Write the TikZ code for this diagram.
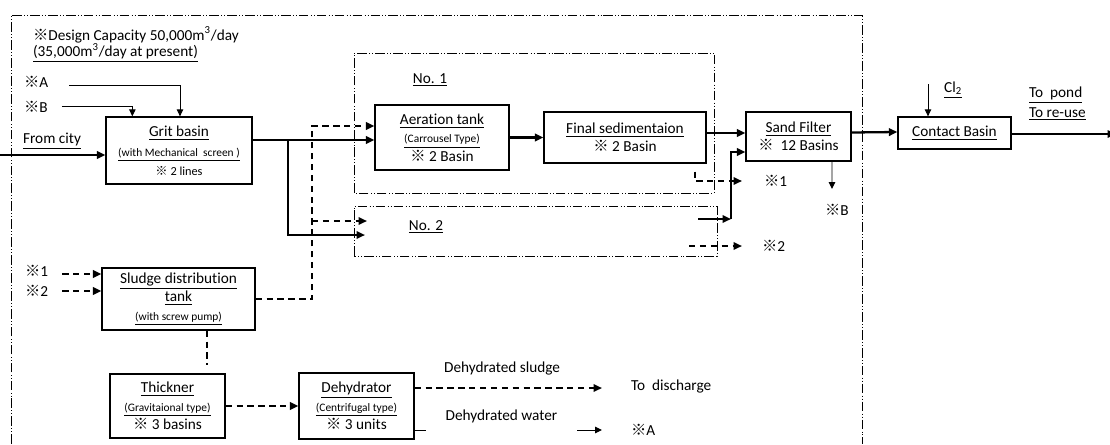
\documentclass[tikz,border=0pt]{standalone}
\usepackage{fontspec}
\setmainfont{Carlito}[Ligatures=NoCommon]
\newfontfamily\cjkfont{Noto Sans CJK JP}
\newcommand{\kome}{{\cjkfont ※}}
\newcommand{\smalltxt}{\fontsize{6.5}{8}\selectfont}
\usetikzlibrary{arrows.meta,calc}

\begin{document}
\begin{tikzpicture}[
  x=0.02cm, y=0.02cm,
  font=\fontsize{8.7}{10.5}\selectfont,
  tank/.style={draw, line width=0.75pt, align=center, inner sep=1pt},
  note/.style={inner sep=1pt},
  flow/.style={line width=1.3pt, -{Triangle[length=1.7mm, width=1.5mm]}},
  feed/.style={line width=0.55pt, -{Triangle[length=1.4mm, width=1.3mm]}},
  sludge/.style={line width=1.2pt, dash pattern=on 3.6pt off 2.6pt},
  sludgeflow/.style={sludge, -{Triangle[length=1.7mm, width=1.5mm]}},
  frame/.style={line width=0.55pt, dash pattern=on 5.5pt off 1.3pt on 0.4pt off 1.3pt on 0.4pt off 1.3pt}
]
  \useasboundingbox (0,0) rectangle (1110,444);

  % plant boundary and the two lines
  \draw[frame] (11,0) -- (11,429) -- (862,429) -- (862,0);
  \draw[frame] (354,251) rectangle (714,391);
  \draw[frame] (354,188) rectangle (717,238);

  \node[note, anchor=west] (cap) at (31,409) {\kome Design Capacity 50,000m\textsuperscript{3}/day};
  \node[note, anchor=west] (now) at (31,391) {\underline{(35,000m\textsuperscript{3}/day at present)}};
  \node[note, anchor=west] (kA) at (22,362) {\kome A};
  \node[note, anchor=west] (kB) at (22,337) {\kome B};
  \node[note, anchor=west] (city) at (21,303) {\underline{From city}};
  \node[note] (no1) at (430,364) {\underline{No. 1}};
  \node[note] (no2) at (426,217) {\underline{No. 2}};

  \node[tank, minimum width=2.92cm, minimum height=1.34cm] (grit) at (179,293.5)
    {\underline{Grit basin}\\[1pt] {\smalltxt\underline{(with Mechanical\ \ screen )}}\\ {\fontsize{7}{8}\selectfont\kome\ 2 lines}};
  \node[tank, minimum width=2.68cm, minimum height=1.3cm] (aer) at (442,306.5)
    {\underline{Aeration tank}\\ {\smalltxt\underline{(Carrousel Type)}}\\ \kome\ 2 Basin};
  \node[tank, minimum width=3.24cm, minimum height=1.02cm] (fin) at (625,306.5)
    {\underline{Final sedimentaion}\\ \kome\ 2 Basin};
  \node[tank, minimum width=2.1cm, minimum height=0.98cm] (sand) at (798.5,307.5)
    {\underline{Sand Filter}\\ \kome\ \ 12 Basins};
  \node[tank, minimum width=2.26cm, minimum height=0.64cm] (contact) at (954.5,311)
    {\underline{Contact Basin}};
  \node[tank, minimum width=3.06cm, minimum height=1.24cm] (sludge) at (178.5,145)
    {\underline{Sludge distribution}\\ \underline{tank}\\ {\smalltxt\underline{(with screw pump)}}};
  \node[tank, minimum width=2.3cm, minimum height=1.28cm] (thk) at (167.5,38)
    {\underline{Thickner}\\ {\smalltxt\underline{(Gravitaional type)}}\\ \kome\ 3 basins};
  \node[tank, minimum width=2.3cm, minimum height=1.32cm] (dehyd) at (356.5,38)
    {\underline{Dehydrator}\\ {\smalltxt\underline{(Centrifugal type)}}\\ \kome\ 3 units};

  \node[note, anchor=west] (kOne) at (762,263) {\kome 1};
  \node[note, anchor=west] (kTwo) at (760,198) {\kome 2};
  \node[note, anchor=west] (kB2) at (823,234) {\kome B};
  \node[note, anchor=west] (cl) at (942,354) {\underline{Cl\textsubscript{2}}};
  \node[note, anchor=west] (pond) at (1027,349) {\underline{To\ \ pond}};
  \node[note, anchor=west] (reuse) at (1027,330) {\underline{To re-use}};
  \node[note, anchor=west] (kOneL) at (23,173) {\kome 1};
  \node[note, anchor=west] (kTwoL) at (23,153) {\kome 2};
  \node[note, anchor=west] (dsl) at (442,75) {Dehydrated sludge};
  \node[note, anchor=west] (disc) at (629,57) {To\ \ discharge};
  \node[note, anchor=west] (kA2) at (629,14) {\kome A};

  \coordinate (inlet) at (0,289);
  \coordinate (jA) at (288,304);
  \coordinate (n2in) at (365,209);
  \coordinate (jB) at (312,318);
  \coordinate (n2ret) at (367,223);
  \coordinate (n2out) at (698,225);
  \coordinate (jC) at (731,225);
  \coordinate (n1sl) at (742,263);
  \coordinate (n2sl) at (689,198);
  \coordinate (sB) at (832,255);
  \coordinate (clin) at (928,360);
  \coordinate (outlet) at (1116,310);
  \coordinate (tod) at (602,56);
  \coordinate (toA) at (602,14);

  \draw[flow] (inlet) -- (inlet -| grit.west);
  \draw[feed] ($(kA.east)+(19,-3)$) -| ($(grit.north)+(1,0)$);
  \draw[feed] ($(kB.east)+(12,1)$) -| ($(grit.north west)+(27,0)$);

  \draw[flow] (grit.east |- jA) -- (jA -| aer.west);
  \draw[flow] (jA) |- (n2in);
  \draw[sludgeflow] (sludge.east) -| (jB) -- (jB -| aer.west);
  \draw[sludgeflow] (jB |- n2ret) -- (n2ret);

  \draw[flow] (aer) -- (fin);
  \draw[flow] ($(fin.east)+(0,4.5)$) -- ($(sand.west)+(0,3.5)$);
  \draw[flow] (n2out) -- (jC);
  \draw[flow] (jC) |- ($(sand.west)+(0,-15.5)$);
  \draw[sludgeflow] ($(fin.south east)+(-12,-8)$) |- (n1sl);
  \draw[sludgeflow] (n2sl) -- (n2sl -| n1sl);
  \draw[feed] ($(sand.south)+(33.5,0)$) -- (sB);

  \draw[flow] ($(sand.east)+(0,4)$) -- ($(contact.west)+(0,1)$);
  \draw[feed] (clin) -- (clin |- contact.north);
  \draw[flow, line width=0.9pt] ($(contact.east)+(0,-1)$) -- (outlet);

  \draw[sludgeflow] ($(kOneL.east)+(12,-3)$) -- ($(sludge.west)+(0,25)$);
  \draw[sludgeflow] ($(kTwoL.east)+(12,0)$) -- ($(sludge.west)+(0,8)$);
  \draw[sludge, shorten >=0.16cm] ($(sludge.south)+(28.5,0)$) -- ($(thk.north)+(39.5,0)$);
  \draw[sludgeflow] (thk) -- (dehyd);
  \draw[sludgeflow] ($(dehyd.east)+(0,18)$) -- (tod);
  \draw[feed] ($(dehyd.east)+(0,-24)$) -- (toA);

  \node[note, anchor=west, fill=white, inner xsep=11pt, inner ysep=5pt] (dwat) at (426,28) {Dehydrated water};
\end{tikzpicture}
\end{document}
